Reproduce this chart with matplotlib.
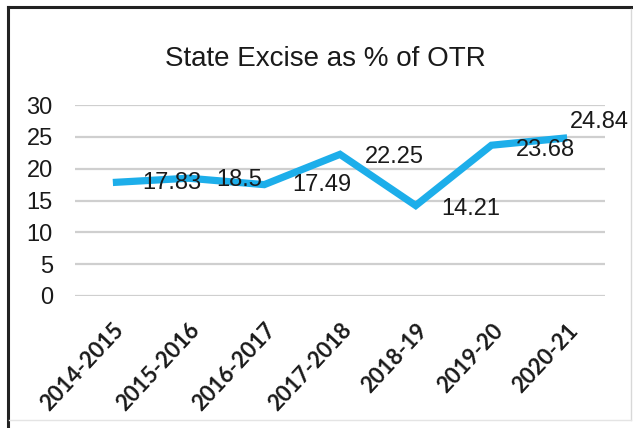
import matplotlib
matplotlib.use("Agg")
import matplotlib.pyplot as plt
from matplotlib.lines import Line2D

# State excise share of own tax revenue, by year
years = ["2014-2015", "2015-2016", "2016-2017", "2017-2018", "2018-19", "2019-20", "2020-21"]
excise_pct = [17.83, 18.5, 17.49, 22.25, 14.21, 23.68, 24.84]
# label offsets in pixels (the last label sits above the point)
label_dx = [29, 28, 28, 25, 26, 24, 3]
label_dy = [-1, -2, 0, -3, -3, -5, 16]

plt.rcParams['font.family'] = ['Liberation Sans', 'DejaVu Sans']

fig = plt.figure(figsize=(6.33, 4.28), dpi=100)
ax = fig.add_axes([75 / 633, 1 - 296 / 428, 530 / 633, 191 / 428])

xs = list(range(len(years)))
ax.plot(xs, excise_pct, color='#1DAEEA', linewidth=5.2, solid_joinstyle='miter',
        solid_capstyle='butt', zorder=3)

for x, v, dx, dy in zip(xs, excise_pct, label_dx, label_dy):
    ax.annotate(f"{v:g}", (x, v), xytext=(dx, dy), textcoords='offset pixels',
                ha='left', va='center', fontsize=17, color='#1a1a1a', zorder=4,
                annotation_clip=False)

ax.set_xlim(-0.5, len(years) - 0.5)
ax.set_ylim(0, 30)
ax.set_yticks(range(0, 31, 5))
ax.yaxis.grid(True, color='#cfcfcf', linewidth=1.6)
ax.set_axisbelow(True)
for s in ax.spines.values():
    s.set_visible(False)

ax.tick_params(axis='y', length=0, pad=16, labelsize=17, labelcolor='#1a1a1a')
ax.tick_params(axis='x', length=0, pad=17)
ax.set_xticks(xs)
ax.set_xticklabels(years, rotation=47, ha='right', va='top', rotation_mode='anchor',
                   fontsize=16, fontweight='bold', family=['Lato', 'DejaVu Sans'],
                   color='#1a1a1a')

fig.text(325 / 633, 1 - 59 / 428, "State Excise as % of OTR", ha='center', va='center',
         fontsize=20, color='#1a1a1a')

# chart frame: dark left/top edges, light right/bottom edges
W, H = 633, 428
fig.add_artist(Line2D([8 / W, 8 / W], [0, 1 - 7 / H], transform=fig.transFigure,
                      color='#222222', linewidth=2.2))
fig.add_artist(Line2D([8 / W, 1], [1 - 7 / H, 1 - 7 / H], transform=fig.transFigure,
                      color='#222222', linewidth=2.2))
fig.add_artist(Line2D([631 / W, 631 / W], [1 - 420 / H, 1 - 9 / H], transform=fig.transFigure,
                      color='#d8d8d8', linewidth=1))
fig.add_artist(Line2D([9 / W, 631 / W], [1 - 420 / H, 1 - 420 / H], transform=fig.transFigure,
                      color='#e4e4e4', linewidth=1))

fig.savefig("out.png", dpi=100, facecolor='white')
